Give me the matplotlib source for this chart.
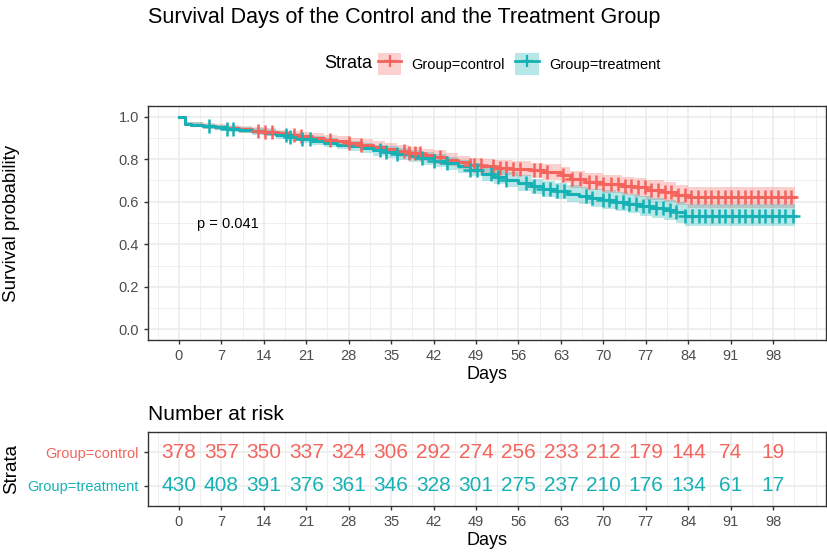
import numpy as np
import matplotlib
matplotlib.use('Agg')
import matplotlib.pyplot as plt
from matplotlib.patches import Patch
from matplotlib.lines import Line2D
from matplotlib.ticker import MultipleLocator

plt.rcParams['font.family'] = ['Liberation Sans', 'DejaVu Sans']

RED = '#F4645D'
TEAL = '#16B1B4'
GRID = '#EBEBEB'
TICK = '#4D4D4D'

groups = ['Group=control', 'Group=treatment']

# Kaplan-Meier steps
ctrl_t = [0, 1, 2, 4, 6, 8, 10, 12, 14, 16, 18, 20, 22, 24, 26, 28, 30, 32, 34, 36, 38, 40,
          42, 44, 46, 48, 50, 52, 55, 58, 60, 63, 64.5, 67, 70, 73, 75, 77, 80, 82, 84]
ctrl_s = [1.0, .965, .962, .956, .951, .945, .940, .934, .928, .921, .914, .907, .900, .892,
          .884, .876, .868, .859, .850, .840, .830, .820, .810, .797, .785, .775, .766, .760,
          .755, .748, .740, .725, .705, .695, .683, .675, .667, .655, .645, .632, .620]
ctrl_lo = [1.0, .955, .951, .944, .938, .931, .925, .918, .911, .903, .895, .887, .879, .870,
           .861, .852, .843, .833, .823, .812, .801, .790, .779, .766, .753, .743, .733, .726,
           .720, .712, .703, .687, .665, .654, .641, .632, .623, .610, .599, .584, .570]
ctrl_hi = [1.0, .975, .973, .968, .964, .959, .955, .950, .945, .939, .933, .927, .921, .914,
           .907, .900, .893, .885, .877, .868, .859, .850, .841, .828, .817, .807, .799, .794,
           .790, .784, .777, .763, .745, .736, .725, .718, .711, .700, .691, .680, .670]
ctrl_end = 101.6
ctrl_cens = [13.0, 14.2, 15.3, 19.0, 20.2, 25.0, 28.0, 30.0, 37.2, 38.0, 38.9, 39.7, 43.0, 48.0,
             48.6, 49.9, 51.8, 52.9, 54.0, 55.1, 56.2, 58.6, 59.6, 60.7, 63.4, 64.8, 66.1, 67.6,
             68.7, 70.0, 71.2, 72.4, 73.5, 74.6, 75.7, 76.8, 77.9, 79.0, 80.1, 81.2, 82.3, 83.4,
             84.5, 85.6, 86.7, 87.8, 88.9, 90.0, 91.1, 92.2, 93.3, 94.4, 95.5, 96.6, 97.7, 98.8,
             99.9, 101.0]

trt_t = [0, 1, 2, 4, 6, 8, 10, 12, 14, 16, 18, 20, 22, 24, 26, 28, 30, 32, 34, 36, 38, 40,
         42, 44, 46, 48, 50, 52, 54, 56, 58, 60, 62, 64, 66, 68, 70, 72, 74, 76, 78, 80, 82, 83.5]
trt_s = [1.0, .965, .962, .955, .950, .943, .937, .931, .924, .914, .904, .895, .886, .877,
         .869, .861, .852, .843, .834, .824, .814, .804, .793, .780, .766, .751, .732, .718,
         .703, .688, .672, .660, .650, .638, .628, .619, .610, .600, .590, .581, .572, .560,
         .550, .535]
trt_lo = [1.0, .955, .951, .943, .937, .929, .922, .915, .907, .896, .885, .875, .865, .855,
          .846, .837, .827, .817, .807, .796, .785, .774, .762, .749, .734, .719, .699, .684,
          .668, .652, .635, .622, .611, .598, .587, .577, .567, .556, .545, .535, .525, .512,
          .501, .488]
trt_hi = [1.0, .975, .973, .967, .963, .957, .952, .947, .941, .932, .923, .915, .907, .899,
          .892, .885, .877, .869, .861, .852, .843, .834, .824, .811, .798, .783, .765, .752,
          .738, .724, .709, .698, .689, .678, .669, .661, .653, .644, .635, .627, .619, .608,
          .599, .588]
trt_end = 101.6
trt_cens = [5.0, 8.0, 8.9, 17.6, 18.4, 20.3, 21.6, 33.2, 34.1, 36.0, 40.1, 42.0, 44.2, 48.0, 49.2,
            51.5, 52.6, 54.0, 57.2, 58.5, 60.0, 61.2, 62.4, 63.5, 67.2, 68.1, 70.0, 71.0, 72.1,
            73.2, 74.3, 75.4, 76.5, 77.6, 78.7, 79.8, 80.9, 82.0, 83.5, 84.6, 85.7, 86.8, 87.9,
            89.0, 90.1, 91.2, 92.3, 93.4, 94.5, 95.6, 96.7, 97.8, 98.9, 100.0, 101.2]

risk_times = [0, 7, 14, 21, 28, 35, 42, 49, 56, 63, 70, 77, 84, 91, 98]
risk_ctrl = [378, 357, 350, 337, 324, 306, 292, 274, 256, 233, 212, 179, 144, 74, 19]
risk_trt = [430, 408, 391, 376, 361, 346, 328, 301, 275, 237, 210, 176, 134, 61, 17]

XLIM = (-5.08, 106.7)

fig = plt.figure(figsize=(8.27, 5.54), dpi=100)
ax = fig.add_axes([148 / 827, 214 / 554, 678 / 827, 234 / 554])
tab = fig.add_axes([148 / 827, 48 / 554, 678 / 827, 74 / 554])


def style_axes(a):
    a.set_facecolor('white')
    for sp in a.spines.values():
        sp.set_color('#333333')
        sp.set_linewidth(1.0)
    a.grid(True, which='major', color=GRID, linewidth=1.1, zorder=0)
    a.grid(True, which='minor', color=GRID, linewidth=0.55, zorder=0)
    a.set_axisbelow(True)
    a.tick_params(which='major', length=3, width=1, color='#333333', labelcolor=TICK, labelsize=10.5)
    a.tick_params(which='minor', length=0)
    a.set_xticks(risk_times)
    a.xaxis.set_minor_locator(MultipleLocator(3.5))


def draw_group(t, s, lo, hi, end, cens, color):
    tt = np.append(t, end)
    ss = np.append(s, s[-1])
    ll = np.append(lo, lo[-1])
    hh = np.append(hi, hi[-1])
    ax.fill_between(tt, ll, hh, step='post', color=color, alpha=0.3, linewidth=0, zorder=2)
    ax.step(tt, ss, where='post', color=color, linewidth=2.2, zorder=3)
    idx = np.searchsorted(t, cens, side='right') - 1
    ax.plot(cens, np.asarray(s)[idx], linestyle='none', marker='+', markersize=10,
            markeredgewidth=1.8, color=color, zorder=4)


draw_group(ctrl_t, ctrl_s, ctrl_lo, ctrl_hi, ctrl_end, ctrl_cens, RED)
draw_group(trt_t, trt_s, trt_lo, trt_hi, trt_end, trt_cens, TEAL)

style_axes(ax)
ax.set_xlim(*XLIM)
ax.set_ylim(-0.05, 1.05)
ax.yaxis.set_minor_locator(MultipleLocator(0.1))
ax.set_yticks([0, 0.2, 0.4, 0.6, 0.8, 1.0])
ax.set_yticklabels(['0.0', '0.2', '0.4', '0.6', '0.8', '1.0'])
ax.set_xlabel('Days', fontsize=13, labelpad=2)
ax.set_ylabel('Survival probability', fontsize=13.5)
ax.yaxis.set_label_coords(-0.189, 0.5)
ax.text(3.0, 0.495, 'p = 0.041', fontsize=10.5, ha='left', va='center')

# risk table
style_axes(tab)
tab.set_xlim(*XLIM)
tab.set_ylim(0.4, 2.6)
tab.set_yticks([2, 1])
tab.set_yticklabels(groups)
for lbl, c in zip(tab.get_yticklabels(), [RED, TEAL]):
    lbl.set_color(c)
for x, n in zip(risk_times, risk_ctrl):
    tab.text(x, 2, str(n), color=RED, fontsize=15, ha='center', va='center')
for x, n in zip(risk_times, risk_trt):
    tab.text(x, 1, str(n), color=TEAL, fontsize=15, ha='center', va='center')
tab.set_xlabel('Days', fontsize=13, labelpad=2)
tab.set_ylabel('Strata', fontsize=13.5)
tab.yaxis.set_label_coords(-0.189, 0.5)
tab.set_title('Number at risk', fontsize=15, loc='left', pad=9)

fig.text(148 / 827, 1 - 18 / 554, 'Survival Days of the Control and the Treatment Group',
         fontsize=15.5, ha='left', va='center')
fig.text(324 / 827, 1 - 64 / 554, 'Strata', fontsize=13, ha='left', va='center')
handles = [(Patch(facecolor=c, alpha=0.3, linewidth=0),
            Line2D([], [], color=c, linewidth=2, marker='+', markersize=9, markeredgewidth=1.6))
           for c in (RED, TEAL)]
fig.legend(handles, groups, loc='center left', bbox_to_anchor=(378 / 827, 1 - 64 / 554),
           ncol=2, frameon=False, fontsize=10.5, handlelength=1.6, handleheight=1.95,
           handletextpad=0.7, columnspacing=0.7, borderaxespad=0, borderpad=0)

fig.savefig('out.png', dpi=100)
